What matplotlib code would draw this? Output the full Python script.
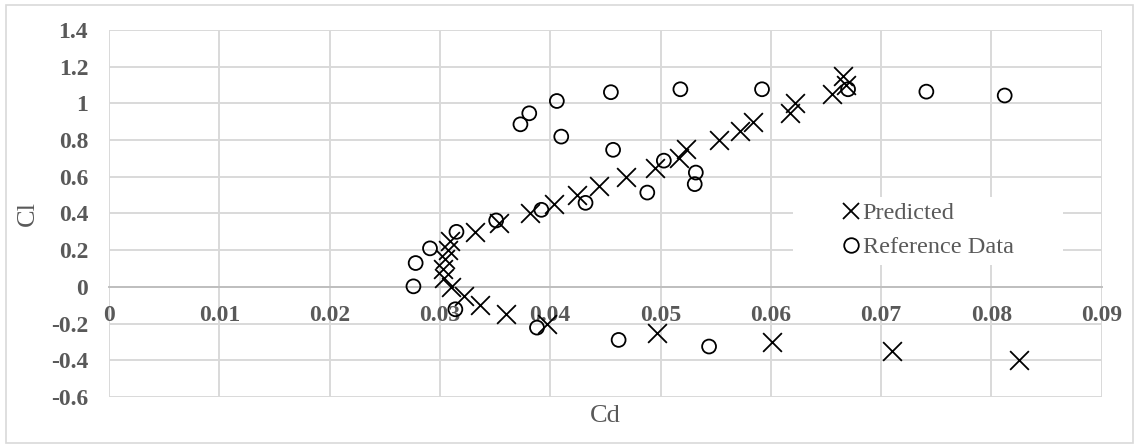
import matplotlib.pyplot as plt
from matplotlib.lines import Line2D
from matplotlib.patches import Rectangle
from matplotlib.ticker import FuncFormatter

# Predicted polar (Cd, Cl)
pred_cl = [-0.40, -0.35, -0.30, -0.25, -0.20, -0.15, -0.10, -0.05, 0.00, 0.05,
           0.10, 0.15, 0.20, 0.25, 0.30, 0.35, 0.40, 0.45, 0.50, 0.55,
           0.60, 0.65, 0.70, 0.75, 0.80, 0.85, 0.90, 0.95, 1.00, 1.05,
           1.10, 1.15]
pred_cd = [0.0825, 0.0710, 0.0601, 0.0497, 0.0397, 0.0360, 0.0336, 0.0322, 0.0310, 0.0304,
           0.0303, 0.0305, 0.0307, 0.0309, 0.0332, 0.0354, 0.0382, 0.0403, 0.0424, 0.0444,
           0.0469, 0.0495, 0.0517, 0.0523, 0.0553, 0.0572, 0.0584, 0.0617, 0.0622, 0.0655,
           0.0668, 0.0665]

# Reference data
ref_cd = [0.0314, 0.0388, 0.0462, 0.0544, 0.0276, 0.0278, 0.0291, 0.0315, 0.0351, 0.0392,
          0.0432, 0.0488, 0.0531, 0.0532, 0.0503, 0.0457, 0.0410, 0.0373, 0.0381, 0.0406,
          0.0455, 0.0518, 0.0592, 0.0670, 0.0741, 0.0812]
ref_cl = [-0.122, -0.222, -0.289, -0.325, 0.003, 0.13, 0.21, 0.30, 0.362, 0.42,
          0.458, 0.514, 0.56, 0.623, 0.688, 0.747, 0.819, 0.886, 0.946, 1.013,
          1.061, 1.077, 1.077, 1.077, 1.064, 1.043]

x_ticks = [0, 0.01, 0.02, 0.03, 0.04, 0.05, 0.06, 0.07, 0.08, 0.09]
y_ticks = [-0.6, -0.4, -0.2, 0, 0.2, 0.4, 0.6, 0.8, 1.0, 1.2, 1.4]

text_grey = '#595959'
grid_grey = '#D9D9D9'
serif = ['Liberation Serif', 'DejaVu Serif']

fig = plt.figure(figsize=(11.39, 4.47), dpi=100)
ax = fig.add_axes([0.0957, 0.1119, 0.8716, 0.821])

ax.scatter(pred_cd, pred_cl, marker='x', s=13.5**2, color='black', linewidths=1.3, zorder=3)
ax.scatter(ref_cd, ref_cl, marker='o', s=10**2, facecolors='none', edgecolors='black',
           linewidths=1.3, zorder=3)

ax.set_xlim(0, 0.09)
ax.set_ylim(-0.6, 1.4)
ax.set_xticks(x_ticks)
ax.set_yticks(y_ticks)
fmt = FuncFormatter(lambda v, p: '%g' % round(v, 3))
ax.xaxis.set_major_formatter(fmt)
ax.yaxis.set_major_formatter(fmt)

ax.grid(True, color=grid_grey, linewidth=1.4)
ax.set_axisbelow(True)
for side in ['top', 'right', 'left']:
    ax.spines[side].set_visible(False)
ax.spines['bottom'].set_position(('data', 0))
ax.spines['bottom'].set_color('#BFBFBF')
ax.spines['bottom'].set_linewidth(1.4)

ax.tick_params(axis='both', length=0, labelcolor=text_grey)
ax.tick_params(axis='x', pad=13)
ax.tick_params(axis='y', pad=15)
for lab in ax.get_xticklabels() + ax.get_yticklabels():
    lab.set_family(serif)
    lab.set_fontsize(17)
    lab.set_fontweight('bold')

# white patch behind the legend
ax.add_patch(Rectangle((0.689, 0.36), 0.272, 0.186, transform=ax.transAxes,
                       facecolor='white', edgecolor='none', zorder=1))

handles = [Line2D([], [], marker='x', ls='none', color='black', ms=11, mew=1.3),
           Line2D([], [], marker='o', ls='none', color='black', mfc='none', ms=10.5, mew=1.3)]
leg = ax.legend(handles, ['Predicted', 'Reference Data'], loc='center left',
                bbox_to_anchor=(0.725, 0.454), frameon=False, borderpad=0,
                handlelength=0.8, handletextpad=0.1, labelspacing=0.5,
                prop={'family': serif, 'size': 17.5})
for t in leg.get_texts():
    t.set_color(text_grey)

fig.text(605 / 1139, 1 - 416 / 447, 'Cd', ha='center', va='center',
         color=text_grey, fontsize=19, family=serif)
fig.text(28 / 1139, 1 - 213 / 447, 'Cl', ha='center', va='center', rotation=90,
         color=text_grey, fontsize=19, family=serif)

# outer chart border
fig.add_artist(Rectangle((6 / 1139, 4 / 447), 1127 / 1139, 438 / 447,
                         transform=fig.transFigure, fill=False,
                         edgecolor=grid_grey, linewidth=1.2))

fig.savefig('out.png', dpi=100)
